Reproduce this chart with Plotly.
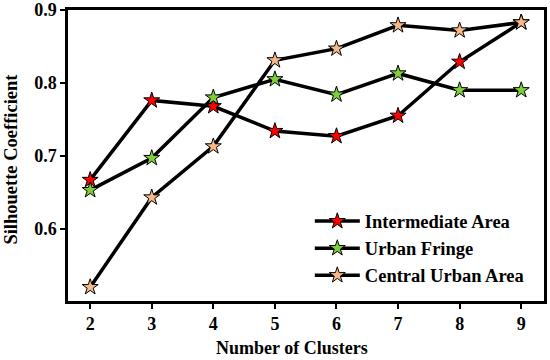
import plotly.graph_objects as go

clusters = [2, 3, 4, 5, 6, 7, 8, 9]
intermediate = [0.667, 0.776, 0.768, 0.734, 0.727, 0.755, 0.829, 0.883]
urban_fringe = [0.653, 0.697, 0.780, 0.805, 0.784, 0.813, 0.790, 0.790]
central_urban = [0.520, 0.643, 0.713, 0.831, 0.847, 0.879, 0.872, 0.883]
y_ticks = [0.6, 0.7, 0.8, 0.9]
x_title = "Number of Clusters"
y_title = "Silhouette Coefficient"

series = [
    ("Intermediate Area", intermediate, "#ff0000"),
    ("Urban Fringe", urban_fringe, "#7ed03b"),
    ("Central Urban Area", central_urban, "#f7b98a"),
]

FONT = "'Liberation Serif', 'Times New Roman', serif"
fig = go.Figure()
for name, vals, col in series:
    fig.add_trace(go.Scatter(
        x=clusters, y=vals, name=name, mode="lines+markers",
        legendgroup=name,
        line=dict(color="black", width=3.5),
        marker=dict(symbol="star", size=12, color=col,
                    line=dict(color="black", width=1)),
    ))

fig.add_annotation(text=x_title, xref="paper", yref="paper", x=0.4706, y=-0.1615,
                   xanchor="center", yanchor="middle", showarrow=False,
                   font=dict(family=FONT, size=18, weight="bold", color="black"))
fig.add_annotation(text=y_title, xref="paper", yref="paper", x=-0.1197, y=0.486,
                   xanchor="center", yanchor="middle", showarrow=False, textangle=-90,
                   font=dict(family=FONT, size=18.5, weight="bold", color="black"))

fig.update_layout(
    width=550, height=360,
    margin=dict(l=68, r=6, t=10, b=59, autoexpand=False),
    plot_bgcolor="white", paper_bgcolor="white",
    font=dict(family=FONT, size=18, color="black", weight="bold"),
    showlegend=True,
    legend=dict(x=0.508, y=0.022, xanchor="left", yanchor="bottom",
                bgcolor="rgba(255,255,255,0)", tracegroupgap=0, itemwidth=45,
                font=dict(family=FONT, size=18.5, color="black", weight="bold")),
    xaxis=dict(
        range=[1.64, 9.37], tickvals=clusters, ticks="outside", ticklen=5,
        tickwidth=2, tickcolor="black", automargin=False,
        showline=True, linecolor="black", linewidth=2.5, mirror=True,
        showgrid=False, zeroline=False,
        tickfont=dict(family=FONT, size=18, weight="bold"),
    ),
    yaxis=dict(
        range=[0.501, 0.9], tickvals=y_ticks, tickformat=".1f",
        ticks="outside", ticklen=5, tickwidth=2, tickcolor="black",
        automargin=False,
        showline=True, linecolor="black", linewidth=2.5, mirror=True,
        showgrid=False, zeroline=False,
        tickfont=dict(family=FONT, size=18, weight="bold"),
    ),
)

fig.write_html("out.html", config={"displayModeBar": False},
               post_script="document.body.style.margin='0';")
